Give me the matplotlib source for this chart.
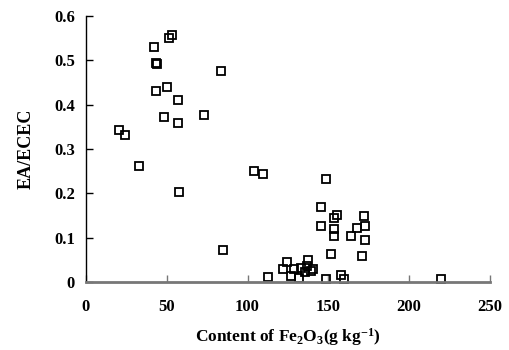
import numpy as np
import matplotlib
matplotlib.use('Agg')
import matplotlib.pyplot as plt

plt.rcParams['font.family'] = 'Liberation Serif'
plt.rcParams['font.weight'] = 'bold'
plt.rcParams['mathtext.fontset'] = 'custom'
plt.rcParams['mathtext.rm'] = 'Liberation Serif:bold'
plt.rcParams['mathtext.bf'] = 'Liberation Serif:bold'
plt.rcParams['mathtext.default'] = 'rm'

# Fe2O3 content (g/kg) vs EA/ECEC ratio
fe2o3 = [42.2, 51.2, 53.3, 43.6, 44.0, 83.7, 43.4, 50.4, 56.8, 48.1, 56.8, 72.8,
         20.6, 24.3, 33.1, 104.1, 57.6, 84.8,
         109.5, 148.4, 145.3, 155.6, 153.5, 172.2, 145.3, 172.4, 167.7, 153.3,
         153.7, 163.8, 172.4, 151.9, 170.6, 124.3, 137.7, 121.8, 128.6, 112.6,
         127.0, 131.6, 133.3, 137.0, 140.5, 135.8, 139.5,
         148.6, 157.6, 159.7, 219.5]
ea_ecec = [0.531, 0.550, 0.558, 0.495, 0.493, 0.477, 0.431, 0.441, 0.410, 0.372, 0.360, 0.377,
           0.343, 0.332, 0.263, 0.251, 0.203, 0.073,
           0.244, 0.233, 0.169, 0.151, 0.145, 0.148, 0.126, 0.126, 0.123, 0.119,
           0.103, 0.105, 0.094, 0.064, 0.058, 0.045, 0.050, 0.029, 0.030, 0.011,
           0.014, 0.010, 0.032, 0.036, 0.030, 0.022, 0.024,
           0.008, 0.016, 0.008, 0.008]

fig = plt.figure(figsize=(5.1, 3.5), dpi=100)
ax = fig.add_axes([0.1686, 0.194, 0.792, 0.76])
ax.plot(fe2o3, ea_ecec, linestyle='none', marker='s', markersize=5.5,
        markerfacecolor='none', markeredgecolor='black', markeredgewidth=1.3,
        clip_on=False)

ax.set_xlim(0, 250)
ax.set_ylim(0, 0.6)
ax.set_xticks(np.arange(0, 251, 50))
ax.set_yticks(np.arange(0, 0.61, 0.1))
ax.set_yticklabels(['0', '0.1', '0.2', '0.3', '0.4', '0.5', '0.6'])

for s in ['top', 'right']:
    ax.spines[s].set_visible(False)
ax.spines['left'].set_linewidth(1.0)
ax.spines['bottom'].set_color('#777777')
ax.spines['bottom'].set_linewidth(2.0)
ax.tick_params(axis='y', direction='in', length=5, width=1, labelsize=12, pad=8)
ax.tick_params(axis='x', direction='in', length=5, width=1, colors='#777777',
               labelcolor='black', labelsize=12, pad=12)

ax.set_xlabel('Content of Fe$_2$O$_3$(g kg$^{-1}$)', fontsize=12.5, fontweight='bold', labelpad=8)
ax.set_ylabel('EA/ECEC', fontsize=13, fontweight='bold', labelpad=14)

fig.savefig('out.png', dpi=100)
